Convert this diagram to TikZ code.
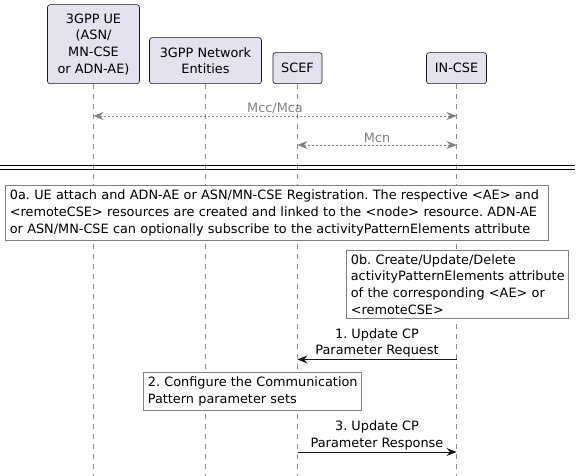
\documentclass[tikz,border=0pt]{standalone}
\usepackage{fontspec}
\setmainfont{DejaVu Sans}
\usetikzlibrary{arrows.meta,calc}
\definecolor{partfill}{HTML}{E2E2F0}
\definecolor{ink}{HTML}{181818}
\definecolor{grayln}{HTML}{808080}
\definecolor{lifeln}{HTML}{8C8C8C}
\frenchspacing
\begin{document}
\begin{tikzpicture}[x=1pt,y=-1pt,
  font=\fontsize{12.85}{16.7}\selectfont,
  part/.style={draw=ink, line width=0.6pt, fill=partfill, rounded corners=2.5pt,
    align=center, inner sep=0pt, anchor=south},
  lifeline/.style={draw=lifeln, line width=0.6pt, dash pattern=on 5pt off 5pt},
  notebox/.style={draw=grayln, line width=0.7pt, fill=white, anchor=north west,
    align=left, inner xsep=5pt, inner ysep=0pt},
  msg/.style={draw=ink, line width=1pt, -{Stealth[length=10pt,width=8pt,inset=3.5pt]}},
  conn/.style={draw=grayln, line width=0.8pt, dash pattern=on 2pt off 2pt,
    {Stealth[length=10pt,width=8pt,inset=3.5pt]}-{Stealth[length=10pt,width=8pt,inset=3.5pt]}},
  lbl/.style={align=center, inner sep=1.5pt, above},
  sep/.style={draw=black, line width=1.1pt}
]
\useasboundingbox (0,0) rectangle (579,476);

% participants
\node[part, minimum width=92pt, minimum height=79pt] (ue) at (93.5,84) {3GPP UE\\(ASN/\\MN-CSE\\or ADN-AE)};
\node[part, minimum width=112pt, minimum height=46pt] (net) at (205.5,84) {3GPP Network\\Entities};
\node[part, minimum width=49pt, minimum height=31pt] (scef) at (297.5,84) {SCEF};
\node[part, minimum width=60pt, minimum height=31pt] (incse) at (456.5,84) {IN-CSE};

% lifeline ends and rows
\coordinate (bottom) at (0,476);
\coordinate (r1) at (0,116);
\coordinate (r2) at (0,145);
\coordinate (r4) at (0,359.5);
\coordinate (r5) at (0,452);
\coordinate (sa) at (0,165.8);
\coordinate (sb) at (0,169.4);
\coordinate (sEnd) at (575,0);

\draw[lifeline] (ue.south) -- (ue.south |- bottom);
\draw[lifeline] (net.south) -- (net.south |- bottom);
\draw[lifeline] (scef.south) -- (scef.south |- bottom);
\draw[lifeline] (incse.south) -- (incse.south |- bottom);

% reference points
\draw[conn] (ue.south |- r1) -- node[lbl, text=grayln] {Mcc/Mca} (incse.south |- r1);
\draw[conn] (scef.south |- r2) -- node[lbl, text=grayln] {Mcn} (incse.south |- r2);

% separator
\draw[sep] (sa) -- (sEnd |- sa);
\draw[sep] (sb) -- (sEnd |- sb);

% notes
\node[notebox, minimum width=543.5pt, minimum height=55pt, text width=533.5pt] (n0a) at (4.5,185)
  {\mbox{0a. UE attach and ADN-AE or ASN/MN-CSE Registration. The respective <AE> and}\\
   \mbox{<remoteCSE> resources are created and linked to the <node> resource. ADN-AE}\\
   \mbox{or ASN/MN-CSE can optionally subscribe to the activityPatternElements attribute}};
\node[notebox, minimum width=222.5pt, minimum height=68pt, text width=212.5pt] (n0b) at (345.5,250)
  {\mbox{0b. Create/Update/Delete}\\
   \mbox{activityPatternElements attribute}\\
   \mbox{of the corresponding <AE> or}\\
   \mbox{<remoteCSE>}};

% messages
\draw[msg] (incse.south |- r4) -- node[lbl] {1. Update CP\\Parameter Request} (scef.south |- r4);
\node[notebox, minimum width=218.5pt, minimum height=38pt, text width=208.5pt] (n2) at (142.5,372)
  {\mbox{2. Configure the Communication}\\
   \mbox{Pattern parameter sets}};
\draw[msg] (scef.south |- r5) -- node[lbl] {3. Update CP\\Parameter Response} (incse.south |- r5);
\end{tikzpicture}
\end{document}
